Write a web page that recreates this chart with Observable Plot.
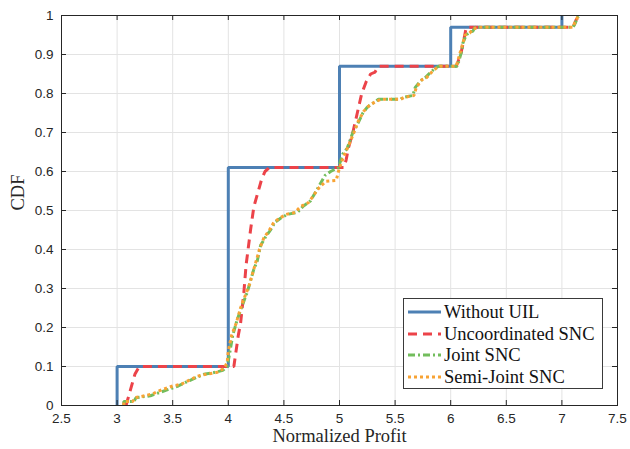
<!DOCTYPE html>
<html><head><meta charset="utf-8">
<script src="https://cdn.jsdelivr.net/npm/d3@7"></script>
<script src="https://cdn.jsdelivr.net/npm/@observablehq/plot@0.6"></script>
<style>
body{margin:0;background:#fff;}
#wrap{position:relative;width:630px;height:449px;}
#legend{position:absolute;left:403px;top:298px;width:200px;height:91px;border:1px solid #3a3a3a;background:#fff;box-sizing:border-box;font-family:"Liberation Serif",serif;font-size:18.5px;color:#111;}
.row{position:absolute;left:0;height:22px;width:196px;}
.row svg{position:absolute;left:3px;top:0;}
.row span{position:absolute;left:40px;top:0;line-height:22px;white-space:nowrap;}
</style></head>
<body><div id="wrap"></div>
<script>
// ---- data ----
const seriesNames = ["Without UIL", "Uncoordinated SNC", "Joint SNC", "Semi-Joint SNC"];

const xWithout = [3, 3, 4, 4, 5, 5, 6, 6, 7, 7];
const yWithout = [0, 0.1, 0.1, 0.61, 0.61, 0.87, 0.87, 0.97, 0.97, 1];

const xUncoord = [3.08, 3.12, 3.16, 3.2, 4.05, 4.07, 4.09, 4.11, 4.14, 4.16, 4.2, 4.23, 4.27, 4.3, 4.33, 4.37,
  5.04, 5.06, 5.08, 5.12, 5.16, 5.2, 5.24, 5.28, 5.32, 5.35, 6.05, 6.09, 6.12, 6.14, 7.1, 7.13, 7.17];
const yUncoord = [0, 0.04, 0.08, 0.1, 0.1, 0.14, 0.18, 0.21, 0.29, 0.36, 0.45, 0.51, 0.55, 0.58, 0.6, 0.61,
  0.61, 0.63, 0.66, 0.7, 0.75, 0.8, 0.83, 0.85, 0.855, 0.87, 0.87, 0.9, 0.94, 0.97, 0.97, 0.99, 1];

const xJoint = [3.06, 3.06, 3.15, 3.17, 3.3, 3.35, 3.45, 3.55, 3.62, 3.7, 3.78, 3.88, 3.95, 3.99, 4.01, 4.04, 4.08,
  4.13, 4.17, 4.2, 4.23, 4.26, 4.29, 4.33, 4.38, 4.42, 4.47, 4.53, 4.62, 4.67, 4.74, 4.78, 4.83, 4.87, 4.92,
  4.99, 5.03, 5.07, 5.12, 5.16, 5.21, 5.25, 5.31, 5.35, 5.55, 5.57, 5.66, 5.68, 5.73, 5.77, 5.82, 5.86, 5.89,
  6.06, 6.08, 6.1, 6.11, 6.14, 6.16, 6.2, 6.22, 7.1, 7.12, 7.14, 7.16];
const yJoint = [0, 0.01, 0.01, 0.02, 0.025, 0.03, 0.04, 0.05, 0.06, 0.07, 0.08, 0.085, 0.09, 0.1, 0.13, 0.18, 0.22,
  0.26, 0.29, 0.32, 0.35, 0.37, 0.41, 0.43, 0.45, 0.47, 0.48, 0.49, 0.495, 0.51, 0.525, 0.545, 0.57, 0.59, 0.6,
  0.61, 0.645, 0.66, 0.7, 0.72, 0.75, 0.765, 0.777, 0.785, 0.785, 0.79, 0.795, 0.815, 0.833, 0.84, 0.855, 0.864, 0.87,
  0.87, 0.89, 0.91, 0.93, 0.95, 0.955, 0.96, 0.97, 0.97, 0.98, 0.995, 1];

const xSemi = [3.06, 3.06, 3.14, 3.16, 3.25, 3.32, 3.4, 3.5, 3.58, 3.65, 3.72, 3.8, 3.9, 3.96, 3.99, 4.0, 4.03, 4.07,
  4.11, 4.15, 4.19, 4.22, 4.25, 4.28, 4.32, 4.37, 4.41, 4.46, 4.52, 4.6, 4.65, 4.72, 4.77, 4.82, 4.88, 4.97,
  5.0, 5.04, 5.08, 5.13, 5.17, 5.22, 5.27, 5.33, 5.37, 5.55, 5.58, 5.67, 5.69, 5.74, 5.78, 5.83, 5.87, 5.9,
  6.05, 6.07, 6.09, 6.11, 6.13, 6.17, 6.2, 6.25, 7.1, 7.12, 7.15];
const ySemi = [0, 0.01, 0.01, 0.02, 0.025, 0.03, 0.04, 0.05, 0.055, 0.065, 0.075, 0.08, 0.085, 0.095, 0.11, 0.14, 0.18, 0.21,
  0.25, 0.28, 0.31, 0.34, 0.37, 0.4, 0.43, 0.45, 0.47, 0.48, 0.49, 0.495, 0.51, 0.52, 0.54, 0.56, 0.575, 0.577,
  0.61, 0.64, 0.665, 0.7, 0.73, 0.755, 0.77, 0.78, 0.785, 0.785, 0.79, 0.795, 0.815, 0.835, 0.84, 0.855, 0.865, 0.87,
  0.87, 0.89, 0.91, 0.93, 0.95, 0.955, 0.965, 0.97, 0.97, 0.985, 1];

const xTicks = [2.5, 3, 3.5, 4, 4.5, 5, 5.5, 6, 6.5, 7, 7.5];
const xTickLabels = ["2.5", "3", "3.5", "4", "4.5", "5", "5.5", "6", "6.5", "7", "7.5"];
const yTicks = [0, 0.1, 0.2, 0.3, 0.4, 0.5, 0.6, 0.7, 0.8, 0.9, 1];
const yTickLabels = ["0", "0.1", "0.2", "0.3", "0.4", "0.5", "0.6", "0.7", "0.8", "0.9", "1"];
const xTitle = "Normalized Profit";
const yTitle = "CDF";

// ---- styles ----
const colors = ["#4d80b4", "#ec4349", "#72bd5c", "#f8a334"];
const dashes = [null, "9,6", "7,3,2,3", "3,3"];

const toRows = (xs, ys) => xs.map((x, i) => ({x, y: ys[i]}));
const tables = [toRows(xWithout, yWithout), toRows(xUncoord, yUncoord), toRows(xJoint, yJoint), toRows(xSemi, ySemi)];

const W = 630, H = 449, mL = 61, mR = 13, mT = 15, mB = 44;
const pw = W - mL - mR, ph = H - mT - mB;
const sans = "'Liberation Sans', Arial, sans-serif";
const serif = "'Liberation Serif', serif";

const chart = Plot.plot({
  width: W, height: H,
  marginLeft: mL, marginRight: mR, marginTop: mT, marginBottom: mB,
  x: {domain: [2.5, 7.5], label: null},
  y: {domain: [0, 1], label: null},
  style: {background: "#fff"},
  marks: [
    Plot.gridX(xTicks, {stroke: "#e3e3e3", strokeOpacity: 1}),
    Plot.gridY(yTicks, {stroke: "#e3e3e3", strokeOpacity: 1}),
    ...tables.map((t, i) => Plot.line(t, {x: "x", y: "y", stroke: colors[i], strokeWidth: 3,
      strokeDasharray: dashes[i], strokeLinejoin: "miter", strokeLinecap: "butt"})),
    Plot.frame({stroke: "#262626", strokeWidth: 1}),
    Plot.ruleX(xTicks, {x: d => d, insetTop: ph - 5, stroke: "#262626"}),
    Plot.ruleX(xTicks, {x: d => d, insetBottom: ph - 5, stroke: "#262626"}),
    Plot.ruleY(yTicks, {y: d => d, insetRight: pw - 5, stroke: "#262626"}),
    Plot.ruleY(yTicks, {y: d => d, insetLeft: pw - 5, stroke: "#262626"}),
    Plot.axisX(xTicks, {tickSize: 0, tickPadding: 8, fontSize: 13.5, fontFamily: sans, fill: "#262626",
      label: null, tickFormat: d => xTickLabels[xTicks.indexOf(d)]}),
    Plot.axisY(yTicks, {tickSize: 0, tickPadding: 8, fontSize: 13.5, fontFamily: sans, fill: "#262626",
      label: null, tickFormat: d => yTickLabels[yTicks.indexOf(d)]}),
    Plot.text([xTitle], {text: d => d, frameAnchor: "bottom", dy: 36, fontFamily: serif, fontSize: 18.5, fill: "#262626"}),
    Plot.text([yTitle], {text: d => d, frameAnchor: "left", dx: -43, rotate: -90, fontFamily: serif, fontSize: 18.5, fill: "#262626"})
  ]
});
const wrap = document.getElementById("wrap");
wrap.appendChild(chart);

// legend
const leg = document.createElement("div");
leg.id = "legend";
const rowTops = [2, 23.5, 45, 66.5];
seriesNames.forEach((name, i) => {
  const r = document.createElement("div");
  r.className = "row";
  r.style.top = rowTops[i] + "px";
  r.innerHTML = `<svg width="34" height="22"><line x1="1" x2="34" y1="11" y2="11" stroke="${colors[i]}" stroke-width="3" ${dashes[i] ? `stroke-dasharray="${dashes[i]}"` : ""}/></svg><span>${name}</span>`;
  leg.appendChild(r);
});
wrap.appendChild(leg);
</script></body></html>
